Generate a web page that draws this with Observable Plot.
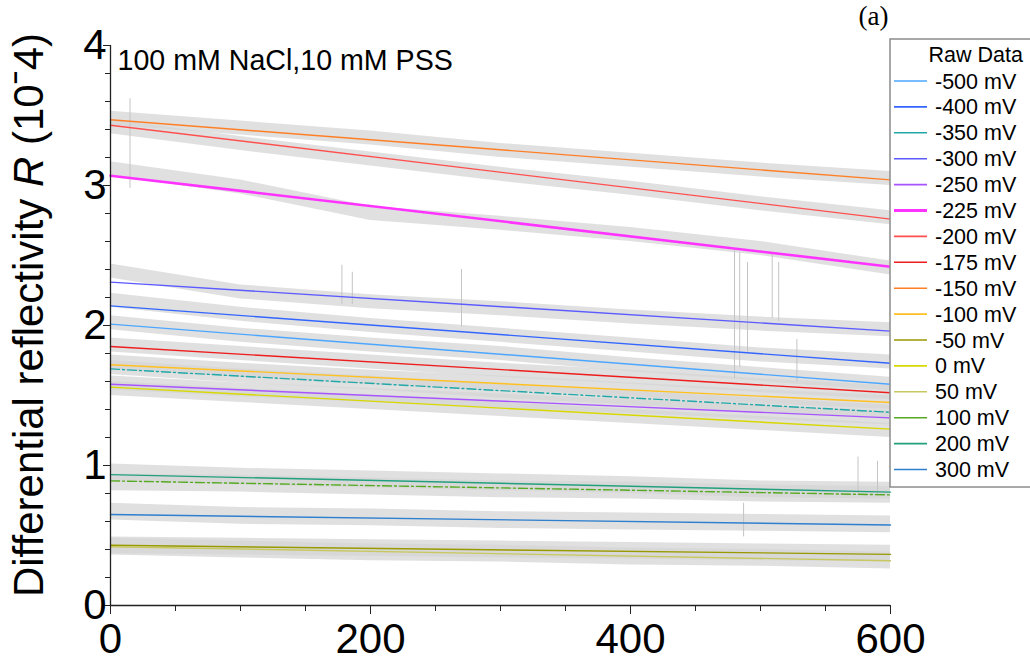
<!DOCTYPE html>
<html>
<head>
<meta charset="utf-8">
<script src="https://cdn.jsdelivr.net/npm/d3@7"></script>
<script src="https://cdn.jsdelivr.net/npm/@observablehq/plot@0.6"></script>
<style>
  body { margin: 0; background: #fff; font-family: "Liberation Sans", Arial, sans-serif; }
  #wrap { position: relative; width: 1030px; height: 666px; overflow: hidden; }
  #legend { position: absolute; left: 889px; top: 38px; }
</style>
</head>
<body>
<div id="wrap"></div>
<script>
// ---------- data ----------
const series = ["-500 mV","-400 mV","-350 mV","-300 mV","-250 mV","-225 mV","-200 mV","-175 mV",
                "-150 mV","-100 mV","-50 mV","0 mV","50 mV","100 mV","200 mV","300 mV"];
const colors = ["#4da6ff","#3366ff","#22a8a8","#5b5bff","#a855ff","#ff33ff","#ff5050","#ee1c1c",
                "#ff7f27","#ffc020","#999900","#d8d800","#c8c860","#55aa22","#22a07e","#2f7fcf"];
// linear fit end points (time 0 s and 600 s)
const fitStart = [2.01, 2.14, 1.69, 2.31, 1.58, 3.07, 3.43, 1.85, 3.47, 1.72, 0.43, 1.56, 0.42, 0.89, 0.935, 0.65];
const fitEnd   = [1.58, 1.73, 1.38, 1.96, 1.34, 2.42, 2.76, 1.52, 3.04, 1.45, 0.365, 1.26, 0.32, 0.79, 0.81, 0.575];

// raw data traces (centre of the noisy trace) read at these times
const rawTimes = [0, 100, 200, 300, 400, 500, 600];
const rawM500 = [2.02, 1.93, 1.86, 1.80, 1.72, 1.65, 1.58];
const rawM400 = [2.18, 2.08, 2.00, 1.93, 1.86, 1.79, 1.74];
const rawM350 = [1.70, 1.64, 1.59, 1.53, 1.48, 1.43, 1.38];
const rawM300 = [2.39, 2.24, 2.17, 2.12, 2.06, 2.01, 1.97];
const rawM250 = [1.59, 1.54, 1.50, 1.46, 1.42, 1.38, 1.34];
const rawM225 = [3.12, 2.99, 2.80, 2.73, 2.65, 2.55, 2.41];
const rawM200 = [3.42, 3.30, 3.19, 3.08, 2.98, 2.87, 2.77];
const rawM175 = [1.86, 1.80, 1.74, 1.68, 1.63, 1.57, 1.52];
const rawM150 = [3.48, 3.41, 3.34, 3.25, 3.18, 3.11, 3.05];
const rawM100 = [1.74, 1.68, 1.63, 1.59, 1.54, 1.49, 1.45];
const rawM50  = [0.43, 0.42, 0.41, 0.40, 0.39, 0.38, 0.37];
const raw0    = [1.55, 1.50, 1.45, 1.40, 1.35, 1.30, 1.25];
const raw50   = [0.42, 0.40, 0.38, 0.37, 0.35, 0.34, 0.32];
const raw100  = [0.88, 0.87, 0.85, 0.83, 0.82, 0.80, 0.79];
const raw200  = [0.95, 0.92, 0.90, 0.88, 0.86, 0.83, 0.82];
const raw300  = [0.67, 0.64, 0.63, 0.61, 0.60, 0.59, 0.58];
const rawTraces = [rawM500, rawM400, rawM350, rawM300, rawM250, rawM225, rawM200, rawM175,
                   rawM150, rawM100, rawM50, raw0, raw50, raw100, raw200, raw300];
// half-width of the noise on each raw trace
const noiseAmp = [0.05, 0.05, 0.05, 0.05, 0.05, 0.05, 0.05, 0.05,
                  0.05, 0.05, 0.06, 0.05, 0.06, 0.06, 0.06, 0.06];

// isolated spikes in the raw data
const spikeTimes = [15, 178, 186, 270, 480, 484, 490, 509, 514, 528, 487, 575, 590];
const spikeLow   = [2.98, 2.15, 2.15, 1.99, 1.62, 1.70, 1.80, 2.05, 2.03, 1.60, 0.49, 0.80, 0.78];
const spikeHigh  = [3.62, 2.43, 2.38, 2.40, 2.55, 2.52, 2.45, 2.52, 2.45, 1.90, 0.73, 1.06, 1.03];

const xMajor = [0, 200, 400, 600];
const xMinor = d3.range(0, 601, 50);
const yMajor = [0, 1, 2, 3, 4];
const yMinor = d3.range(0, 4.001, 0.2);

const annotation = "100 mM NaCl,10 mM PSS";
const panelLabel = "(a)";
const legendTitle = "Raw Data";

// ---------- tables ----------
const fits = series.flatMap((s, i) => [{s, x: 0, y: fitStart[i]}, {s, x: 600, y: fitEnd[i]}]);
const raw = series.flatMap((s, i) => rawTimes.map((t, j) => ({
  s, x: t, lo: rawTraces[i][j] - noiseAmp[i], hi: rawTraces[i][j] + noiseAmp[i]
})));
const spikes = spikeTimes.map((t, i) => ({x: t, lo: spikeLow[i], hi: spikeHigh[i]}));

const dashDot = new Set(["-350 mV", "100 mV"]);
const thick = new Set(["-225 mV"]);

const font = "Liberation Sans, Arial, sans-serif";

const chart = Plot.plot({
  width: 1030, height: 666,
  marginLeft: 110, marginRight: 140, marginTop: 45, marginBottom: 61,
  x: {domain: [0, 600], label: null},
  y: {domain: [0, 4], label: null},
  color: {domain: series, range: colors},
  style: {fontFamily: font, background: "white", color: "black"},
  marks: [
    Plot.areaY(raw, {x: "x", y1: "lo", y2: "hi", z: "s", fill: "#d6d6d6", fillOpacity: 0.75}),
    Plot.ruleX(spikes, {x: "x", y1: "lo", y2: "hi", stroke: "#c4c4c4", strokeWidth: 1}),
    Plot.line(fits.filter(d => !dashDot.has(d.s) && !thick.has(d.s)),
      {x: "x", y: "y", z: "s", stroke: "s", strokeWidth: 1.4}),
    Plot.line(fits.filter(d => dashDot.has(d.s)),
      {x: "x", y: "y", z: "s", stroke: "s", strokeWidth: 1.4, strokeDasharray: "9,3,2,3"}),
    Plot.line(fits.filter(d => thick.has(d.s)),
      {x: "x", y: "y", z: "s", stroke: "s", strokeWidth: 2.6}),
    // axes
    Plot.ruleX([0], {stroke: "#222", strokeWidth: 1.3}),
    Plot.ruleY([0], {stroke: "#222", strokeWidth: 1.3}),
    Plot.axisX({ticks: xMinor, tickSize: 6, tickFormat: () => "", stroke: "#222", label: null}),
    Plot.axisX({ticks: xMajor, tickSize: 9, tickFormat: () => "", stroke: "#222", label: null}),
    Plot.axisX({ticks: xMajor, tickSize: 0, tickPadding: 18, fontSize: 42, tickFormat: d => String(d), label: null}),
    Plot.axisY({ticks: yMinor, tickSize: 5, tickFormat: () => "", stroke: "#222", label: null}),
    Plot.axisY({ticks: yMajor, tickSize: 7, tickFormat: () => "", stroke: "#222", label: null}),
    Plot.axisY({ticks: yMajor, tickSize: 0, tickPadding: 4, fontSize: 42, tickFormat: d => String(d), label: null}),
    Plot.text([annotation], {frameAnchor: "top-left", text: d => d, dx: 7, dy: 4, lineAnchor: "top",
      textAnchor: "start", fontSize: 28.6, fill: "black"}),
    Plot.text([panelLabel], {frameAnchor: "top-right", text: d => d, dx: -2, dy: -40, lineAnchor: "top",
      textAnchor: "end", fontSize: 27, fontFamily: "Liberation Serif, Times New Roman, serif", fill: "black"})
  ]
});

// y axis title with italic R
const svg = d3.select(chart);
const t = svg.append("text")
  .attr("transform", "translate(43,315) rotate(-90)")
  .attr("text-anchor", "middle")
  .attr("font-size", 42)
  .attr("font-family", font)
  .attr("fill", "black");
t.append("tspan").text("Differential reflectivity ");
t.append("tspan").attr("font-style", "italic").text("R");
t.append("tspan").text(" (10ˉ4)");

const wrap = document.getElementById("wrap");
wrap.appendChild(chart);

// legend
const rowH = 25.9;
const leg = d3.create("svg").attr("id", "legend").attr("width", 141).attr("height", 452)
  .style("font-family", font);
leg.append("rect").attr("x", 1).attr("y", 1).attr("width", 160).attr("height", 448)
  .attr("fill", "white").attr("stroke", "#8c8c8c").attr("stroke-width", 1.5);
leg.append("text").attr("x", 134).attr("y", 16).attr("dy", "0.35em").attr("text-anchor", "end")
  .attr("font-size", 21.5).text(legendTitle);
series.forEach((s, i) => {
  const y = 43 + rowH * i;
  leg.append("line").attr("x1", 5).attr("x2", 38).attr("y1", y).attr("y2", y)
    .attr("stroke", colors[i]).attr("stroke-width", thick.has(s) ? 3 : 1.6);
  leg.append("text").attr("x", 46).attr("y", y).attr("dy", "0.35em").attr("font-size", 21.5).text(s);
});
wrap.appendChild(leg.node());
</script>
</body>
</html>
